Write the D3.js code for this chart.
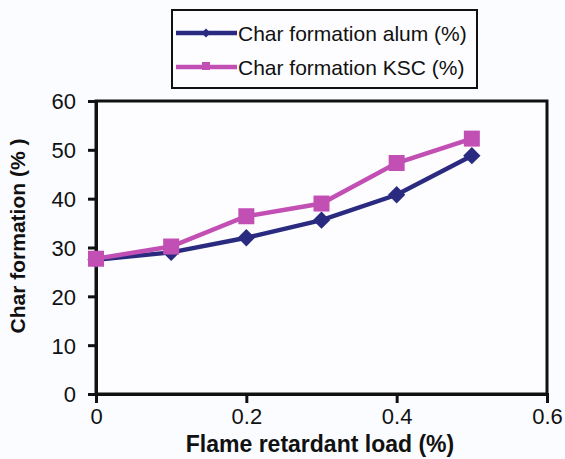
<!DOCTYPE html>
<html><head><meta charset="utf-8">
<script src="https://cdn.jsdelivr.net/npm/d3@7"></script>
<style>body{margin:0;background:#fbfcff;}svg{display:block;font-family:"Liberation Sans",Arial,sans-serif;}</style>
</head><body>
<svg id="c" width="565" height="459"></svg>
<script>
const loads = [0, 0.1, 0.2, 0.3, 0.4, 0.5];
const alum = [27.5, 29, 32, 35.6, 40.8, 48.8];
const ksc = [27.7, 30.2, 36.4, 39, 47.3, 52.3];
const seriesNames = ["Char formation alum (%)", "Char formation KSC (%)"];
const xTicks = [0, 0.2, 0.4, 0.6];
const yTicks = [0, 10, 20, 30, 40, 50, 60];

const svg = d3.select("#c");
const x = d3.scaleLinear().domain([0, 0.6]).range([96, 547]);
const y = d3.scaleLinear().domain([0, 60]).range([394, 101]);
const colA = "#2a2b80", colK = "#c24fb4";

svg.append("rect").attr("x", 96).attr("y", 101).attr("width", 451).attr("height", 293)
  .attr("fill", "#fdfdff").attr("stroke", "#111").attr("stroke-width", 3);

const xa = svg.append("g").attr("transform", "translate(0,394)")
  .call(d3.axisBottom(x).tickValues(xTicks).tickSize(9).tickFormat(d => d === 0 ? "0" : d3.format(".1f")(d)));
const ya = svg.append("g").attr("transform", "translate(96,0)")
  .call(d3.axisLeft(y).tickValues(yTicks).tickSize(8));
[xa, ya].forEach(g => {
  g.select(".domain").attr("stroke", "#111").attr("stroke-width", 3);
  g.selectAll(".tick line").attr("stroke", "#111").attr("stroke-width", 3);
  g.selectAll(".tick text").attr("fill", "#111").attr("font-size", 22).attr("font-family", "Liberation Sans, Arial, sans-serif");
});
xa.selectAll(".tick text").attr("y", 14).attr("dy", "0.71em");
ya.selectAll(".tick text").attr("x", -20).attr("dy", "0.36em");

const line = d3.line().x((d, i) => x(loads[i])).y(d => y(d));
svg.append("path").datum(alum).attr("d", line).attr("fill", "none").attr("stroke", colA).attr("stroke-width", 4.5);
svg.append("path").datum(ksc).attr("d", line).attr("fill", "none").attr("stroke", colK).attr("stroke-width", 4.5);

const diamond = d3.symbol().type(d3.symbolSquare).size(150);
svg.selectAll(".da").data(alum).enter().append("path")
  .attr("d", diamond).attr("fill", colA)
  .attr("transform", (d, i) => `translate(${x(loads[i])},${y(d)}) rotate(45)`);
svg.selectAll(".sk").data(ksc).enter().append("rect")
  .attr("x", (d, i) => x(loads[i]) - 8).attr("y", d => y(d) - 8)
  .attr("width", 16).attr("height", 16).attr("fill", colK);

svg.append("text").attr("x", 320).attr("y", 452).attr("text-anchor", "middle")
  .attr("font-size", 23).attr("font-weight", "bold").attr("fill", "#111").text("Flame retardant load (%)");
svg.append("text").attr("transform", "translate(25,236) rotate(-90)").attr("text-anchor", "middle")
  .attr("font-size", 21).attr("font-weight", "bold").attr("fill", "#111")
  .attr("textLength", 195).attr("lengthAdjust", "spacingAndGlyphs").text("Char formation (% )");

const lg = svg.append("g");
lg.append("rect").attr("x", 172).attr("y", 10).attr("width", 305).attr("height", 78)
  .attr("fill", "#fdfdff").attr("stroke", "#111").attr("stroke-width", 2);
const cols = [colA, colK];
seriesNames.forEach((n, i) => {
  const yy = 33 + i * 34;
  lg.append("line").attr("x1", 176).attr("x2", 237).attr("y1", yy).attr("y2", yy)
    .attr("stroke", cols[i]).attr("stroke-width", 4.5);
  if (i === 0) lg.append("path").attr("d", d3.symbol().type(d3.symbolSquare).size(40)())
    .attr("fill", cols[i]).attr("transform", `translate(206,${yy}) rotate(45)`);
  else lg.append("rect").attr("x", 202).attr("y", yy - 5).attr("width", 8).attr("height", 8).attr("fill", cols[i]);
  lg.append("text").attr("x", 238).attr("y", yy).attr("dy", "0.36em").attr("font-size", 21)
    .attr("fill", "#111").text(n);
});
</script>
</body></html>
